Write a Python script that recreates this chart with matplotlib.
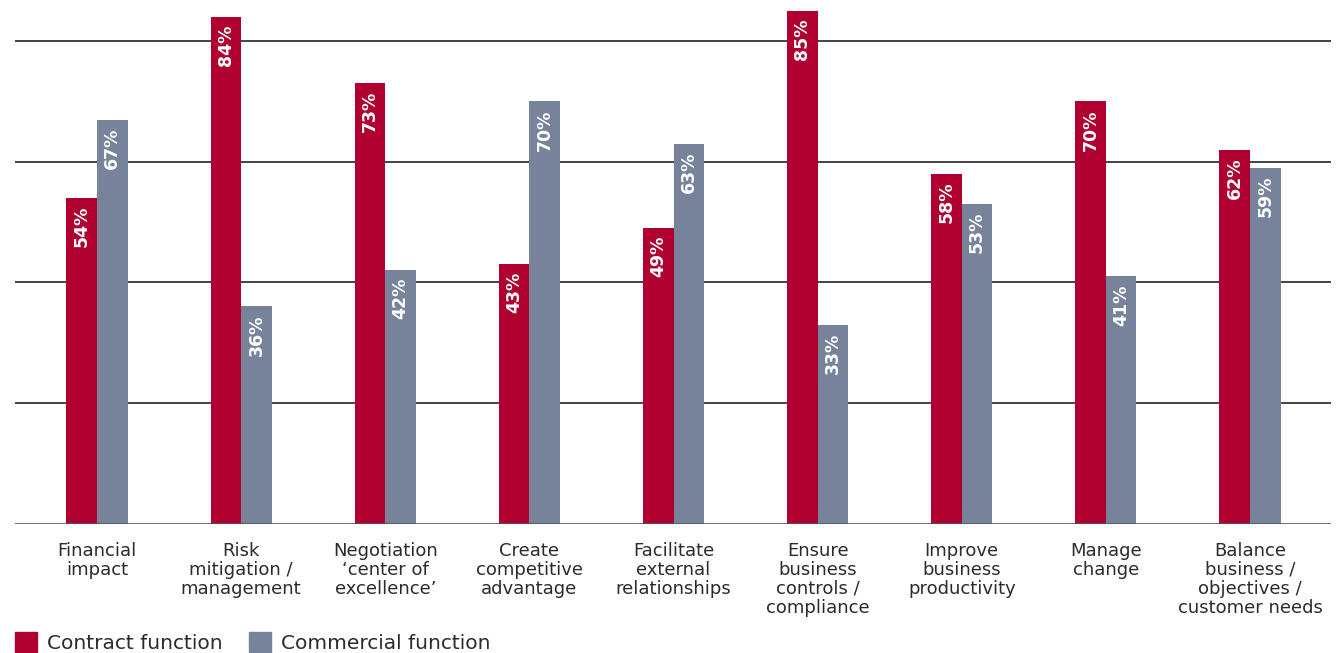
import numpy as np
import matplotlib.pyplot as plt
from matplotlib.patches import Patch

categories = ['Financial\nimpact', 'Risk\nmitigation /\nmanagement', 'Negotiation\n\u2018center of\nexcellence\u2019',
              'Create\ncompetitive\nadvantage', 'Facilitate\nexternal\nrelationships', 'Ensure\nbusiness\ncontrols /\ncompliance',
              'Improve\nbusiness\nproductivity', 'Manage\nchange', 'Balance\nbusiness /\nobjectives /\ncustomer needs']
contract = [54, 84, 73, 43, 49, 85, 58, 70, 62]
commercial = [67, 36, 42, 70, 63, 33, 53, 41, 59]
series_names = ['Contract function', 'Commercial function']

red = '#B00030'
gray = '#77829B'

plt.rcParams['font.family'] = ['DejaVu Sans']

W, H = 1339, 653
fig = plt.figure(figsize=(W / 100, H / 100), dpi=100)
ax = fig.add_axes([15 / W, (H - 523.5) / H, (1331 - 15) / W, (523.5 - 5) / H])

x = np.arange(len(categories))
w = 0.212
b1 = ax.bar(x - w / 2, contract, w, color=red, zorder=3)
b2 = ax.bar(x + w / 2, commercial, w, color=gray, zorder=3)

for bars, vals in ((b1, contract), (b2, commercial)):
    for rect, v in zip(bars, vals):
        ax.text(rect.get_x() + rect.get_width() / 2, v - 1.3, f'{v}%', rotation=90,
                ha='center', va='top', color='white', fontsize=12.5, fontweight='bold', zorder=4)

ax.set_xlim(-0.569, 8.562)
ax.set_ylim(0, 86)
for y in [20, 40, 60, 80]:
    ax.axhline(y, color='#111111', lw=1.1, zorder=1)
ax.axhline(0, color='#555555', lw=1.2, zorder=4)

for s in ax.spines.values():
    s.set_visible(False)
ax.set_yticks([])
ax.set_xticks(x)
ax.set_xticklabels(categories, fontsize=13, color='#2b2b2b', linespacing=1.08)
ax.tick_params(axis='x', length=0, pad=13)

handles = [Patch(color=red), Patch(color=gray)]
fig.legend(handles, series_names, loc='lower left', bbox_to_anchor=(15 / W, 0.0), ncol=2,
           frameon=False, fontsize=14.5, handlelength=1.1, handleheight=1.1, handletextpad=0.5,
           columnspacing=1.3, borderpad=0, borderaxespad=0, labelcolor='#2b2b2b')

fig.savefig('out.png', dpi=100)
